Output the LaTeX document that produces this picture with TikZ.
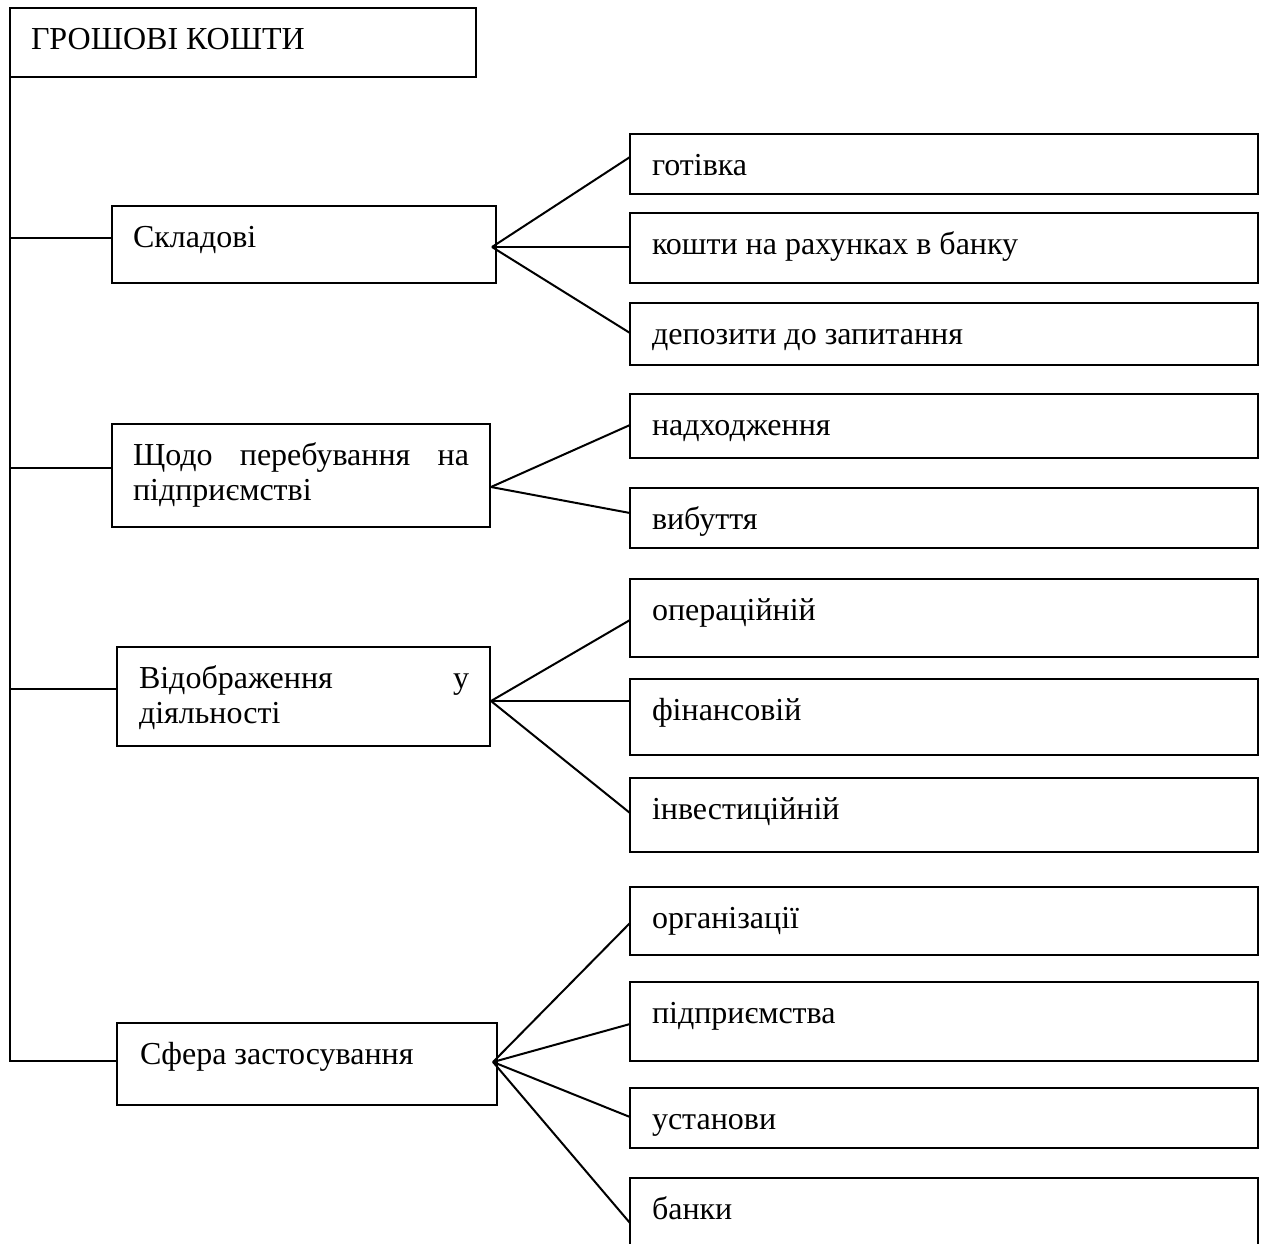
\documentclass[tikz,border=0pt]{standalone}
\usepackage{fontspec}
\setmainfont{Liberation Serif}
\usetikzlibrary{calc}
\begin{document}
\begin{tikzpicture}[x=1pt,y=-1pt,line width=2pt,
  bx/.style={draw,rectangle,inner sep=0pt,outer sep=0pt,anchor=north west},
  lbl/.style={anchor=base west,inner sep=0pt,outer sep=0pt,font=\fontsize{32}{35}\selectfont},
  conn/.style={line width=2pt}]
\useasboundingbox (0,0) rectangle (1266,1243);
% main box
\node[bx,minimum width=466pt,minimum height=69pt] (top) at (10,8) {};
\node[lbl] (topt) at ([shift={(21,41)}]top.north west) {ГРОШОВІ КОШТИ};
% group boxes
\node[bx,minimum width=384pt,minimum height=77pt] (skl) at (112,206) {};
\node[lbl] (sklt) at ([shift={(21,41)}]skl.north west) {Складові};
\node[bx,minimum width=378pt,minimum height=103pt] (shodo) at (112,424) {};
\node[lbl] (shodot) at ([shift={(21,41)}]shodo.north west)
  {\vtop{\baselineskip=35pt\hbox to 336pt{Щодо\hfill перебування\hfill на}\hbox{підприємстві}}};
\node[bx,minimum width=373pt,minimum height=99pt] (vid) at (117,647) {};
\node[lbl] (vidt) at ([shift={(22,41)}]vid.north west)
  {\vtop{\baselineskip=35pt\hbox to 330pt{Відображення\hfill у}\hbox{діяльності}}};
\node[bx,minimum width=380pt,minimum height=82pt] (sf) at (117,1023) {};
\node[lbl] (sft) at ([shift={(23,41)}]sf.north west) {Сфера застосування};
% child boxes
\foreach \n/\y/\h/\t in {
  c1/134/60/готівка,
  c2/213/70/кошти на рахунках в банку,
  c3/303/62/депозити до запитання,
  c4/394/64/надходження,
  c5/488/60/вибуття,
  c6/579/78/операційній,
  c7/679/76/фінансовій,
  c8/778/74/інвестиційній,
  c9/887/68/організації,
  c10/982/79/підприємства,
  c11/1088/60/установи,
  c12/1178/80/банки}{
  \node[bx,minimum width=628pt,minimum height=\h pt] (\n) at (630,\y) {};
  \node[lbl] (\n t) at ([shift={(22,41)}]\n.north west) {\t};
}
% trunk and branches
\coordinate (j1) at ([shift={(0,-6.5)}]skl.west);
\coordinate (j2) at ([shift={(0,-7.5)}]shodo.west);
\coordinate (j3) at ([shift={(0,-7.5)}]vid.west);
\coordinate (j4) at ([shift={(0,-3)}]sf.west);
\draw[conn] (top.south west) |- (j4);
\draw[conn] (top.south west |- j1) -- (j1);
\draw[conn] (top.south west |- j2) -- (j2);
\draw[conn] (top.south west |- j3) -- (j3);
% fan origins
\coordinate (o1) at ([shift={(-4,2.5)}]skl.east);
\coordinate (o2) at ([shift={(1,11.5)}]shodo.east);
\coordinate (o3) at ([shift={(1,4.5)}]vid.east);
\coordinate (o4) at ([shift={(-4,-2)}]sf.east);
% fans
\draw[conn] (o1) -- ([shift={(0,-7)}]c1.west);
\draw[conn] (o1) -- ([shift={(0,-1)}]c2.west);
\draw[conn] (o1) -- ([shift={(0,-1)}]c3.west);
\draw[conn] (o2) -- ([shift={(0,-1)}]c4.west);
\draw[conn] (o2) -- ([shift={(0,-5)}]c5.west);
\draw[conn] (o3) -- ([shift={(0,2)}]c6.west);
\draw[conn] (o3) -- ([shift={(0,-16)}]c7.west);
\draw[conn] (o3) -- ([shift={(0,-2)}]c8.west);
\draw[conn] (o4) -- ([shift={(0,2)}]c9.west);
\draw[conn] (o4) -- ([shift={(0,2.5)}]c10.west);
\draw[conn] (o4) -- ([shift={(0,-1)}]c11.west);
\draw[conn] (o4) -- ([shift={(0,5)}]c12.west);
\end{tikzpicture}
\end{document}
